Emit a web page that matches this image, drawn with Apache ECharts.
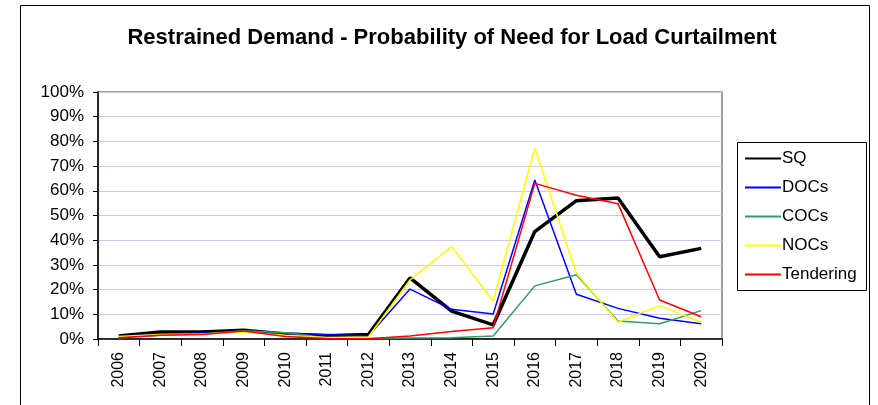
<!DOCTYPE html>
<html>
<head>
<meta charset="utf-8">
<script src="https://cdn.jsdelivr.net/npm/echarts@6/dist/echarts.min.js"></script>
<style>
  html, body { margin: 0; padding: 0; background: #fff; }
  #main { width: 878px; height: 405px; }
</style>
</head>
<body>
<div id="main"></div>
<script>
var years = ['2006','2007','2008','2009','2010','2011','2012','2013','2014','2015','2016','2017','2018','2019','2020'];
var yTicks = [0, 10, 20, 30, 40, 50, 60, 70, 80, 90, 100];

// values in percent
var sq         = [1.2, 2.8, 2.8, 3.5, 2.0, 1.3, 1.8, 24.7, 11.3, 5.7, 43.5, 56.0, 57.1, 33.3, 36.7];
var docs       = [1.0, 2.0, 2.3, 3.2, 2.3, 1.8, 1.2, 20.2, 12.0, 10.1, 64.4, 18.1, 12.4, 8.4, 6.2];
var cocs       = [0.5, 1.5, 2.0, 3.3, 2.5, 0.5, 0.2, 0.4, 0.5, 1.2, 21.5, 26.0, 7.3, 6.2, 11.5];
var nocs       = [1.0, 1.8, 2.0, 2.8, 1.5, 0.6, 0.8, 23.9, 37.4, 15.4, 77.3, 26.6, 6.8, 13.5, 6.8];
var tendering  = [0.5, 1.5, 1.8, 3.2, 1.0, 0.2, 0.1, 1.2, 3.0, 4.6, 63.0, 58.2, 54.8, 15.8, 9.0];

var font = 'Arial, "Liberation Sans", sans-serif';

function line(name, data, color, width) {
    return {
        name: name,
        type: 'line',
        data: data,
        symbol: 'none',
        lineStyle: { color: color, width: width },
        itemStyle: { color: color },
        animation: false
    };
}

var chart = echarts.init(document.getElementById('main'));
chart.setOption({
    backgroundColor: '#fff',
    title: {
        text: 'Restrained Demand - Probability of Need for Load Curtailment',
        left: 447,
        textAlign: 'center',
        top: 22,
        textStyle: { fontFamily: font, fontSize: 22, fontWeight: 'bold', color: '#000' }
    },
    graphic: [
        { type: 'rect', shape: { x: 20.5, y: 5.5, width: 849, height: 420 },
          style: { fill: 'none', stroke: '#000', lineWidth: 1 } },
        { type: 'rect', shape: { x: 98, y: 92, width: 624, height: 247 },
          style: { fill: 'none', stroke: '#808080', lineWidth: 1.5 }, z: 0 },
        { type: 'rect', shape: { x: 737.5, y: 142.5, width: 129, height: 148 },
          style: { fill: 'none', stroke: '#000', lineWidth: 1 } }
    ],
    legend: {
        orient: 'vertical',
        left: 742,
        top: 148,
        itemWidth: 36,
        itemHeight: 10,
        itemGap: 12,
        padding: [2, 2, 2, 2],
        itemStyle: { opacity: 0 },
        data: ['SQ', 'DOCs', 'COCs', 'NOCs', 'Tendering'],
        textStyle: { fontFamily: font, fontSize: 17, lineHeight: 17, color: '#000', padding: [0, 0, 0, -4] }
    },
    grid: { left: 98, right: 156, top: 92, bottom: 66 },
    xAxis: {
        type: 'category',
        data: years,
        boundaryGap: true,
        axisLine: { lineStyle: { color: '#000', width: 1.5 } },
        axisTick: { show: true, length: 7, lineStyle: { color: '#000' } },
        axisLabel: { rotate: 90, fontFamily: font, fontSize: 16, color: '#000', margin: 13 },
        splitLine: { show: false }
    },
    yAxis: {
        type: 'value',
        min: 0,
        max: 100,
        interval: 10,
        axisLine: { show: true, lineStyle: { color: '#000', width: 1.5 } },
        axisTick: { show: true, length: 5, lineStyle: { color: '#000' } },
        axisLabel: {
            fontFamily: font, fontSize: 17, color: '#000', margin: 14,
            formatter: function (v) { return yTicks.indexOf(v) >= 0 ? v + '%' : ''; }
        },
        splitLine: { show: true, lineStyle: { color: '#c8c8f4', width: 1 } }
    },
    series: [
        line('SQ', sq, '#000000', 3.5),
        line('DOCs', docs, '#0000ff', 1.5),
        line('COCs', cocs, '#339966', 1.5),
        line('NOCs', nocs, '#ffff00', 1.5),
        line('Tendering', tendering, '#ff0000', 1.5)
    ]
});
</script>
</body>
</html>
